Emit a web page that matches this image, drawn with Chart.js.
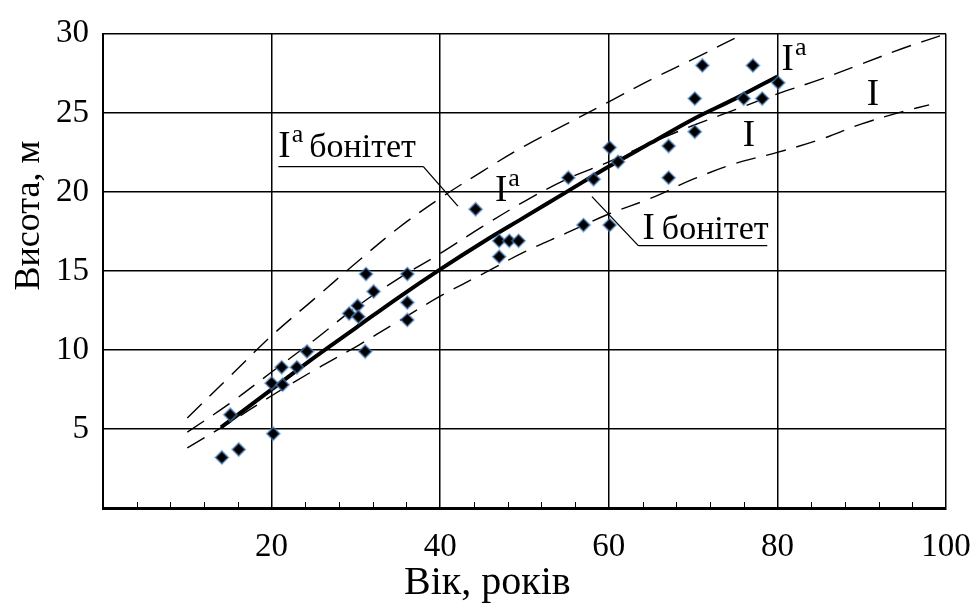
<!DOCTYPE html>
<html><head><meta charset="utf-8">
<script src="https://cdn.jsdelivr.net/npm/chart.js@4.4.1/dist/chart.umd.min.js"></script>
<style>html,body{margin:0;padding:0;background:#fff;overflow:hidden}</style>
</head><body>
<canvas id="c" width="971" height="604"></canvas>
<script>
// ---- data ----
const pointAge    = [14.1,16.1,15.1,20.2,20.0,21.2,21.3,23.0,24.2,31.1,31.2,36.1,32.1,30.2,29.2,30.3,36.1,36.1,44.2,47.0,48.2,49.3,47.0,55.2,58.2,60.1,61.1,57.0,60.1,71.1,77.1,70.2,70.2,67.1,67.1,76.0,78.2,80.1];
const pointHeight = [3.2,3.7,5.9,4.7,7.9,8.9,7.8,8.9,9.9,9.9,14.8,14.8,13.7,12.8,12.3,12.1,13.0,11.9,18.9,16.9,16.9,16.9,15.9,20.9,20.8,22.8,21.9,17.9,17.9,28.0,28.0,25.9,23.8,22.9,20.9,25.9,25.9,26.9];

const meanAge    = [14,20,25,30,35,40,45,50,55,60,65,70,75,80];
const meanHeight = [5.1,7.5,9.5,11.4,13.3,15.1,16.8,18.4,20.0,21.6,23.1,24.6,25.9,27.3];

const iaUpperAge    = [10,15,20,25,30,35,40,45,50,55,60,65,70,76];
const iaUpperHeight = [5.7,8.3,10.9,13.2,15.5,17.7,19.6,21.3,22.9,24.3,25.7,27.1,28.4,30.0];

const iaLowerAge    = [10,15,20,25,30,35,40,45,50,55,60,65,70,75,80,85,90,95,100];
const iaLowerHeight = [4.8,6.6,8.6,10.6,12.7,14.5,16.1,17.8,19.4,20.8,21.9,23.1,24.2,25.2,26.2,27.1,28.1,29.1,30.0];

const iLowerAge    = [10,15,20,25,30,35,40,45,50,55,60,65,70,75,80,85,90,95,98];
const iLowerHeight = [3.8,5.4,7.1,8.7,10.2,11.8,13.4,14.8,16.2,17.4,18.6,19.6,20.8,21.8,22.5,23.3,24.3,25.1,25.5];

const xTickLabels = [20,40,60,80,100];
const yTickLabels = [5,10,15,20,25,30];

const xTitle = 'Вік, років';
const yTitle = 'Висота, м';

// ---- helpers ----
const pts = (xs, ys) => xs.map((x, i) => ({x, y: ys[i]}));
const SERIF = '"Liberation Serif", "Times New Roman", serif';

// annotation texts (placed in data coordinates)
const notes = [
  {x: 20.8, y: 22.2, main: 'I', sup: 'a', rest: 'бонітет', under: [20.8, 38.0, 21.6], leader: [38.0, 21.6, 42.1, 19.1]},
  {x: 64.0, y: 17.0, main: 'I', sup: '',  rest: 'бонітет', under: [63.5, 78.8, 16.6], leader: [63.5, 16.6, 58.0, 19.7]},
  {x: 46.5, y: 19.4, main: 'I', sup: 'a'},
  {x: 80.5, y: 27.7, main: 'I', sup: 'a'},
  {x: 75.9, y: 22.9, main: 'I', sup: ''},
  {x: 90.6, y: 25.5, main: 'I', sup: ''}
];

const annot = {
  id: 'annot',
  afterDatasetsDraw(chart) {
    const {ctx, scales: {x, y}} = chart;
    ctx.save();
    // minor ticks on x axis (inside the plot)
    ctx.strokeStyle = '#000'; ctx.lineWidth = 1;
    for (const t of x.ticks) {
      if (xTickLabels.includes(t.value) || t.value === 0) continue;
      const px = Math.round(x.getPixelForValue(t.value)) + 0.5;
      ctx.beginPath(); ctx.moveTo(px, y.bottom); ctx.lineTo(px, y.bottom - 6); ctx.stroke();
    }
    ctx.fillStyle = '#000';
    ctx.textBaseline = 'alphabetic';
    ctx.textAlign = 'left';
    for (const n of notes) {
      let px = x.getPixelForValue(n.x), py = y.getPixelForValue(n.y);
      ctx.font = '37px ' + SERIF;
      ctx.fillText(n.main, px, py);
      px += ctx.measureText(n.main).width + 1;
      if (n.sup) {
        ctx.font = '26px ' + SERIF;
        ctx.fillText(n.sup, px, py - 15);
        px += ctx.measureText(n.sup).width;
      }
      if (n.rest) {
        ctx.font = '34px ' + SERIF;
        ctx.fillText(n.rest, px + 6, py);
      }
      if (n.under) {
        ctx.lineWidth = 1.3;
        ctx.beginPath();
        const uy = y.getPixelForValue(n.under[2]);
        ctx.moveTo(x.getPixelForValue(n.under[0]), uy);
        ctx.lineTo(x.getPixelForValue(n.under[1]), uy);
        ctx.moveTo(x.getPixelForValue(n.leader[0]), y.getPixelForValue(n.leader[1]));
        ctx.lineTo(x.getPixelForValue(n.leader[2]), y.getPixelForValue(n.leader[3]));
        ctx.stroke();
      }
    }
    // axis titles
    ctx.textAlign = 'center';
    ctx.textBaseline = 'middle';
    ctx.font = '40px ' + SERIF;
    ctx.fillText(xTitle, x.getPixelForValue(45.6), 583);
    ctx.translate(30, y.getPixelForValue(18.5));
    ctx.rotate(-Math.PI / 2);
    ctx.font = '36px ' + SERIF;
    ctx.fillText(yTitle, 0, 0);
    ctx.restore();
  }
};

const dashed = {
  type: 'line', borderColor: '#000', borderWidth: 1.4, borderDash: [20, 11],
  pointRadius: 0, fill: false, tension: 0.35, order: 3
};

new Chart(document.getElementById('c'), {
  data: {
    datasets: [
      {type: 'scatter', data: pts(pointAge, pointHeight), pointStyle: 'rectRot', pointRadius: 6.5,
       backgroundColor: '#000', borderColor: 'rgba(80,140,205,0.55)', borderWidth: 2, order: 0},
      {type: 'line', data: pts(meanAge, meanHeight), borderColor: '#000', borderWidth: 4,
       pointRadius: 0, fill: false, tension: 0.35, order: 1},
      Object.assign({data: pts(iaUpperAge, iaUpperHeight)}, dashed),
      Object.assign({data: pts(iaLowerAge, iaLowerHeight)}, dashed),
      Object.assign({data: pts(iLowerAge, iLowerHeight)}, dashed)
    ]
  },
  options: {
    responsive: false, animation: false, devicePixelRatio: 1,
    layout: {padding: {top: 26, right: 0, left: 0, bottom: 0}},
    plugins: {legend: {display: false}, tooltip: {enabled: false}},
    scales: {
      x: {
        type: 'linear', min: 0, max: 100,
        afterFit: s => { s.height = 96; s.paddingRight = 25; s.paddingLeft = 0; },
        ticks: {stepSize: 4, autoSkip: false, maxRotation: 0, padding: 20, color: '#000',
                font: {family: SERIF, size: 33},
                callback: v => xTickLabels.includes(v) ? String(v) : ''},
        grid: {drawTicks: false, lineWidth: 1.5,
               color: c => (c.tick && xTickLabels.includes(c.tick.value)) ? '#000' : 'rgba(0,0,0,0)'},
        border: {display: true, color: '#000', width: 3}
      },
      y: {
        type: 'linear', min: 0, max: 30,
        afterFit: s => { s.width = 103; },
        ticks: {stepSize: 5, padding: 14, color: '#000', font: {family: SERIF, size: 33},
                callback: v => yTickLabels.includes(v) ? String(v) : ''},
        grid: {drawTicks: false, lineWidth: 1.5,
               color: c => (c.tick && yTickLabels.includes(c.tick.value)) ? '#000' : 'rgba(0,0,0,0)'},
        border: {display: true, color: '#000', width: 2}
      }
    }
  },
  plugins: [annot]
});
</script>
</body></html>
